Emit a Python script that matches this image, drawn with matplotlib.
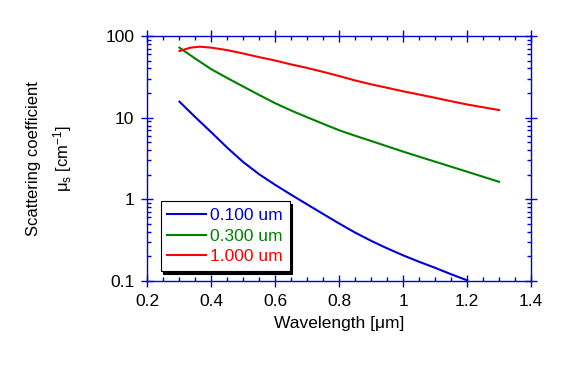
import numpy as np
import matplotlib.pyplot as plt
from matplotlib.ticker import MultipleLocator, LogLocator, FuncFormatter, NullFormatter

plt.rcParams['font.family'] = ['Liberation Sans', 'DejaVu Sans']
plt.rcParams['mathtext.fontset'] = 'custom'
plt.rcParams['mathtext.rm'] = 'Liberation Sans'
plt.rcParams['mathtext.it'] = 'Liberation Sans:italic'

# scattering coefficient (cm^-1) vs wavelength (um)
wl_small = [0.30, 0.35, 0.40, 0.45, 0.50, 0.55, 0.60, 0.65, 0.70, 0.75,
            0.80, 0.85, 0.90, 0.95, 1.00, 1.05, 1.10, 1.15, 1.20]
mus_small = [15.7, 10.1, 6.6, 4.27, 2.85, 2.02, 1.50, 1.135, 0.865, 0.66,
             0.505, 0.391, 0.31, 0.251, 0.206, 0.172, 0.145, 0.121, 0.102]

wl_mid = [0.30, 0.35, 0.40, 0.45, 0.50, 0.55, 0.60, 0.65, 0.70, 0.75,
          0.80, 0.85, 0.90, 0.95, 1.00, 1.05, 1.10, 1.15, 1.20, 1.25, 1.30]
mus_mid = [72, 52.7, 39.1, 30.5, 24.0, 18.9, 15.0, 12.2, 10.1, 8.4,
           7.0, 6.0, 5.18, 4.46, 3.84, 3.33, 2.89, 2.51, 2.18, 1.89, 1.64]

wl_big = [0.30, 0.334, 0.363, 0.40, 0.45, 0.50, 0.55, 0.60, 0.65, 0.70, 0.75,
          0.80, 0.85, 0.90, 0.95, 1.00, 1.05, 1.10, 1.15, 1.20, 1.25, 1.30]
mus_big = [65.5, 71.9, 74, 72, 67, 61, 55, 50, 44.8, 40.6, 36.3,
           32.3, 28.5, 25.6, 23.2, 21, 19.2, 17.5, 15.9, 14.5, 13.4, 12.4]

labels = ['0.100 um', '0.300 um', '1.000 um']
colors = ['#0000d4', '#008000', '#ff0000']
axis_blue = '#0000d4'

fig = plt.figure(figsize=(5.75, 3.68), dpi=100)
ax = fig.add_axes([0.2565, 0.2364, 0.667, 0.6658])

for wl, mus, c, lab in zip([wl_small, wl_mid, wl_big], [mus_small, mus_mid, mus_big], colors, labels):
    ax.plot(wl, mus, color=c, lw=1.5, label=lab)

ax.set_yscale('log')
ax.set_xlim(0.2, 1.4)
ax.set_ylim(0.1, 100)
ax.xaxis.set_major_locator(MultipleLocator(0.2))
ax.xaxis.set_minor_locator(MultipleLocator(0.05))
ax.yaxis.set_minor_locator(LogLocator(base=10, subs=np.arange(2, 10)))
ax.yaxis.set_minor_formatter(NullFormatter())
fmt = FuncFormatter(lambda v, pos: '%g' % v)
ax.xaxis.set_major_formatter(fmt)
ax.yaxis.set_major_formatter(fmt)

for sp in ax.spines.values():
    sp.set_color(axis_blue)
    sp.set_linewidth(1)
ax.tick_params(which='major', direction='inout', length=9, width=1, color=axis_blue,
               top=True, right=True, labelsize=12.5, pad=5)
ax.tick_params(which='minor', direction='in', length=3, width=1, color=axis_blue,
               top=True, right=True)

ax.set_xlabel('Wavelength [μm]', fontsize=12.5, labelpad=5)
fig.text(34 / 575, 0.569, 'Scattering coefficient', rotation=90, fontsize=12,
         ha='center', va='center')
fig.text(63 / 575, 0.569, r'μ$_\mathrm{s}$ [cm$^\mathrm{-1}$]', rotation=90, fontsize=12,
         ha='center', va='center')

leg = ax.legend(loc='lower left', bbox_to_anchor=(0.034, 0.041), borderaxespad=0,
                fancybox=False, shadow={'color': 'black', 'alpha': 1}, framealpha=1,
                edgecolor='black', fontsize=12.5, handlelength=2.2, handletextpad=0.25,
                labelspacing=0.3, borderpad=0.4)
leg.get_frame().set_linewidth(0.8)
for t, c in zip(leg.get_texts(), colors):
    t.set_color(c)

fig.savefig('out.png', dpi=100)
